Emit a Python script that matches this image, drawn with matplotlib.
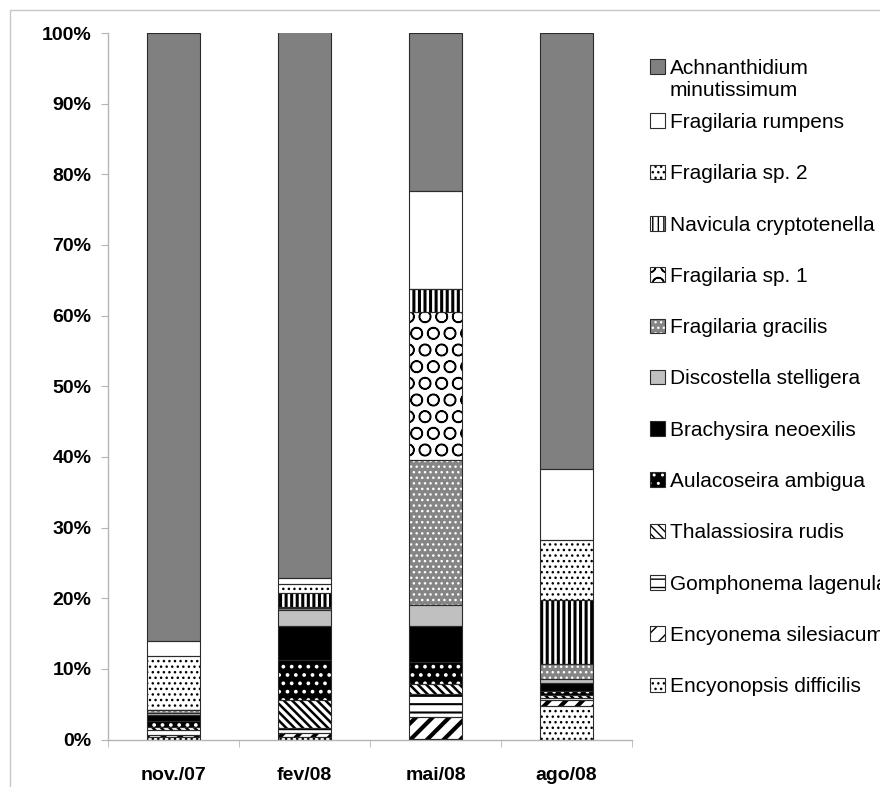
"""
Abundância relativa das espécies de diatomáceas por campanha
- barras empilhadas 100%, preenchimento em tons de cinza e hachuras
"""

import matplotlib
matplotlib.use('Agg')
import matplotlib.pyplot as plt
from matplotlib.patches import Patch, Rectangle
from matplotlib.legend_handler import HandlerTuple
from matplotlib.ticker import FuncFormatter

plt.rcParams['font.family'] = ['Liberation Sans', 'DejaVu Sans']

# campanhas
campanhas = ['nov./07', 'fev/08', 'mai/08', 'ago/08']

# abundância relativa (%) - da base para o topo
encyonopsis_difficilis = [0.3, 0.35, 0.1, 4.8]
encyonema_silesiacum = [0.4, 0.55, 3.1, 0.8]
gomphonema_lagenula = [0.6, 0.7, 3.3, 0.3]
thalassiosira_rudis = [0.5, 4.0, 1.3, 0.4]
aulacoseira_ambigua = [0.8, 5.65, 3.1, 0.6]
brachysira_neoexilis = [0.9, 4.75, 5.1, 1.1]
discostella_stelligera = [0.2, 2.4, 3.1, 0.5]
fragilaria_gracilis = [0.5, 0.2, 20.4, 2.2]
fragilaria_sp1 = [0.0, 0.2, 21.0, 0.0]
navicula_cryptotenella = [0.0, 1.9, 3.3, 9.0]
fragilaria_sp2 = [7.6, 1.3, 0.0, 8.5]
fragilaria_rumpens = [2.2, 0.8, 13.8, 10.1]
achnanthidium_minutissimum = [86.0, 77.45, 22.4, 61.7]

series = [
    ('Encyonopsis difficilis', encyonopsis_difficilis),
    ('Encyonema silesiacum', encyonema_silesiacum),
    ('Gomphonema lagenula', gomphonema_lagenula),
    ('Thalassiosira rudis', thalassiosira_rudis),
    ('Aulacoseira ambigua', aulacoseira_ambigua),
    ('Brachysira neoexilis', brachysira_neoexilis),
    ('Discostella stelligera', discostella_stelligera),
    ('Fragilaria gracilis', fragilaria_gracilis),
    ('Fragilaria sp. 1', fragilaria_sp1),
    ('Navicula cryptotenella', navicula_cryptotenella),
    ('Fragilaria sp. 2', fragilaria_sp2),
    ('Fragilaria rumpens', fragilaria_rumpens),
    ('Achnanthidium\nminutissimum', achnanthidium_minutissimum),
]

# estilo: (cor de fundo, cor da hachura, hachura, espessura da hachura)
ESTILOS = {
    'Encyonopsis difficilis': ('white', 'black', '...', 1.0),
    'Encyonema silesiacum': ('white', 'black', '//', 3.0),
    'Gomphonema lagenula': ('white', 'black', '--', 1.5),
    'Thalassiosira rudis': ('white', 'black', '\\\\\\\\', 1.8),
    'Aulacoseira ambigua': ('black', 'white', '..', 1.5),
    'Brachysira neoexilis': ('black', 'black', None, 1.0),
    'Discostella stelligera': ('#c0c0c0', 'black', None, 1.0),
    'Fragilaria gracilis': ('#858585', 'white', '...', 1.0),
    'Fragilaria sp. 1': ('white', 'black', 'O', 1.0),
    'Navicula cryptotenella': ('white', 'black', '|||', 2.2),
    'Fragilaria sp. 2': ('white', 'black', '...', 1.0),
    'Fragilaria rumpens': ('white', 'black', None, 1.0),
    'Achnanthidium\nminutissimum': ('#808080', 'black', None, 1.0),
}

CONTORNO = '#2b2b2b'


def patch_hachurado(face, hcor, hatch, hlw):
    """cria patch de legenda com a mesma hachura da barra"""
    with plt.rc_context({'hatch.color': hcor, 'hatch.linewidth': hlw}):
        p = Patch(facecolor=face, hatch=hatch, linewidth=0)
    if hasattr(p, 'set_hatch_linewidth'):
        p.set_hatch_linewidth(hlw)
    contorno = Patch(fill=False, edgecolor=CONTORNO, linewidth=0.8)
    return (p, contorno)


fig = plt.figure(figsize=(8.8, 7.87), dpi=100)
ax = fig.add_axes([108 / 880, 1 - 739.5 / 787, 524 / 880, (739.5 - 33) / 787])

x = list(range(len(campanhas)))
largura = 0.4
base = [0.0] * len(campanhas)
handles = []
labels = []

for nome, valores in series:
    face, hcor, hatch, hlw = ESTILOS[nome]
    with plt.rc_context({'hatch.color': hcor, 'hatch.linewidth': hlw}):
        barras = ax.bar(x, valores, largura, bottom=base, color=face,
                        hatch=hatch, linewidth=0, zorder=2)
    for b in barras:
        if hasattr(b, 'set_hatch_linewidth'):
            b.set_hatch_linewidth(hlw)
    # contorno de cada segmento
    ax.bar(x, valores, largura, bottom=base, fill=False,
           edgecolor=CONTORNO, linewidth=0.8, zorder=3)
    base = [b0 + v for b0, v in zip(base, valores)]
    handles.append(patch_hachurado(face, hcor, hatch, hlw))
    labels.append(nome)

# eixos
ax.set_xlim(-0.5, len(campanhas) - 0.5)
ax.set_ylim(0, 100)
ax.set_yticks(range(0, 101, 10))
ax.yaxis.set_major_formatter(FuncFormatter(lambda v, p: f'{v:.0f}%'))
ax.set_xticks(x)
ax.set_xticklabels(campanhas)
ax.set_xticks([i - 0.5 for i in range(len(campanhas) + 1)], minor=True)

for lado in ['top', 'right']:
    ax.spines[lado].set_visible(False)
for lado in ['left', 'bottom']:
    ax.spines[lado].set_color('#b5b5b5')
    ax.spines[lado].set_linewidth(1.0)

ax.tick_params(axis='y', direction='out', length=5, color='#b5b5b5',
               labelsize=14, pad=7)
ax.tick_params(axis='x', which='major', length=0, labelsize=14, pad=20)
ax.tick_params(axis='x', which='minor', direction='out', length=5,
               color='#b5b5b5')
for t in ax.get_xticklabels() + ax.get_yticklabels():
    t.set_fontweight('bold')

# legenda (topo -> base); a primeira entrada tem duas linhas, fica separada
handles = handles[::-1]
labels = labels[::-1]
opts = dict(loc='upper left', frameon=False, fontsize=15,
            handler_map={tuple: HandlerTuple(ndivide=1)},
            handlelength=0.7, handleheight=0.7, handletextpad=0.25,
            borderpad=0, borderaxespad=0)

leg1 = fig.legend(handles[:1], labels[:1],
                  bbox_to_anchor=(650 / 880, 1 - 59 / 787),
                  labelspacing=0, **opts)
# alinhar o marcador com a primeira linha do texto
try:
    leg1._legend_handle_box.get_children()[0].get_children()[0].align = 'top'
except Exception:
    pass

leg2 = fig.legend(handles[1:], labels[1:],
                  bbox_to_anchor=(650 / 880, 1 - 113 / 787),
                  labelspacing=1.55, **opts)

# moldura externa
fig.patches.append(Rectangle((10 / 880, -0.05), 1.2, 1 - 10 / 787 + 0.05,
                             transform=fig.transFigure, fill=False,
                             edgecolor='#c8c8c8', linewidth=1.0))

plt.savefig('out.png', dpi=100, facecolor='white')
